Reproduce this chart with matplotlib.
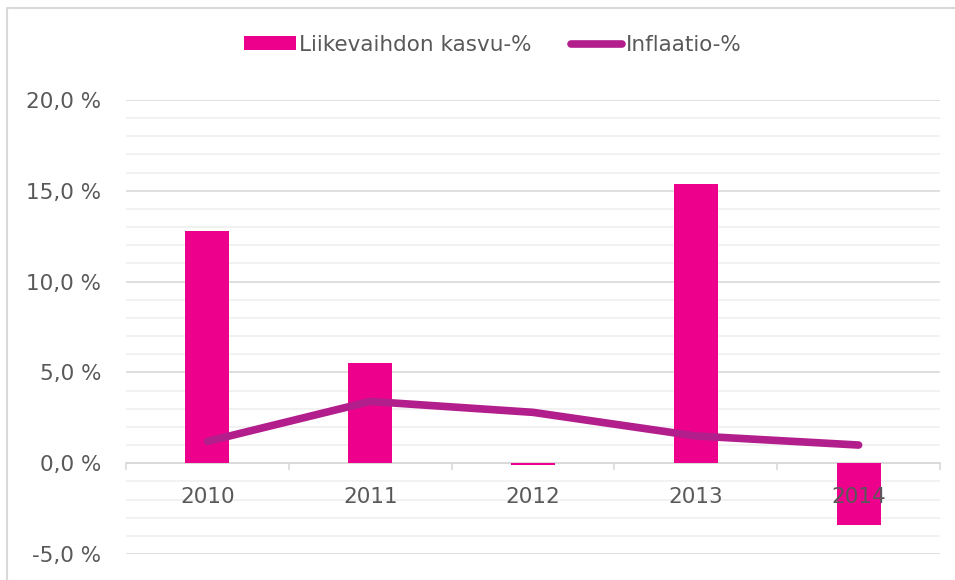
import numpy as np
from matplotlib import pyplot as plt
from matplotlib.lines import Line2D

years = ['2010', '2011', '2012', '2013', '2014']
kasvu = [12.8, 5.5, -0.1, 15.4, -3.4]
inflaatio = [1.2, 3.4, 2.8, 1.5, 1.0]
yticks = [-5, 0, 5, 10, 15, 20]

bar_color = '#EC008C'
line_color = '#B31E8D'
text_color = '#595959'

fig = plt.figure(figsize=(9.55, 5.8), dpi=100)
ax = fig.add_axes([126/955, 1 - 554/580, (940 - 126)/955, (554 - 100)/580])

x = np.arange(len(years))
bars = ax.bar(x, kasvu, width=0.27, color=bar_color, zorder=1, label='Liikevaihdon kasvu-%')
line, = ax.plot(x, inflaatio, color=line_color, lw=5.5, solid_capstyle='round',
                solid_joinstyle='round', zorder=3, label='Inflaatio-%')

ax.set_xlim(-0.5, len(years) - 0.5)
ax.set_ylim(-5, 20)
ax.set_yticks(yticks)
ax.set_yticklabels([('%.1f %%' % v).replace('.', ',') for v in yticks])
ax.set_yticks(np.arange(-5, 21, 1), minor=True)
ax.set_xticks(x)
ax.set_xticklabels(years)
ax.set_xticks(np.arange(-0.5, len(years), 1), minor=True)

ax.grid(axis='y', which='major', color='#d9d9d9', lw=1.2)
ax.grid(axis='y', which='minor', color='#f0f0f0', lw=1.2)
ax.set_axisbelow(True)
ax.xaxis.set_zorder(4)

for s in ['top', 'right', 'left']:
    ax.spines[s].set_visible(False)
ax.spines['bottom'].set_position(('data', 0))
ax.spines['bottom'].set_color('#d9d9d9')
ax.spines['bottom'].set_linewidth(1.2)
ax.spines['bottom'].set_zorder(0.6)

ax.tick_params(axis='y', which='both', length=0, pad=18, labelsize=15.5, labelcolor=text_color)
ax.tick_params(axis='x', which='major', length=0, pad=17, labelsize=15.5, labelcolor=text_color)
ax.tick_params(axis='x', which='minor', length=5, width=1.2, color='#d9d9d9', direction='out')

fig.legend([bars, line], ['Liikevaihdon kasvu-%', 'Inflaatio-%'],
           loc='center', bbox_to_anchor=(0.516, 1 - 45/580), ncol=2, frameon=False,
           fontsize=15.5, labelcolor=text_color, handlelength=2.4, handleheight=0.62,
           handletextpad=0.15, columnspacing=1.8)

# chart area border (top and left only visible)
fig.lines.append(Line2D([7/955, 7/955, 1], [0, 1 - 8/580, 1 - 8/580],
                        transform=fig.transFigure, color='#d9d9d9', lw=1.5))

plt.savefig('out.png', dpi=100)
